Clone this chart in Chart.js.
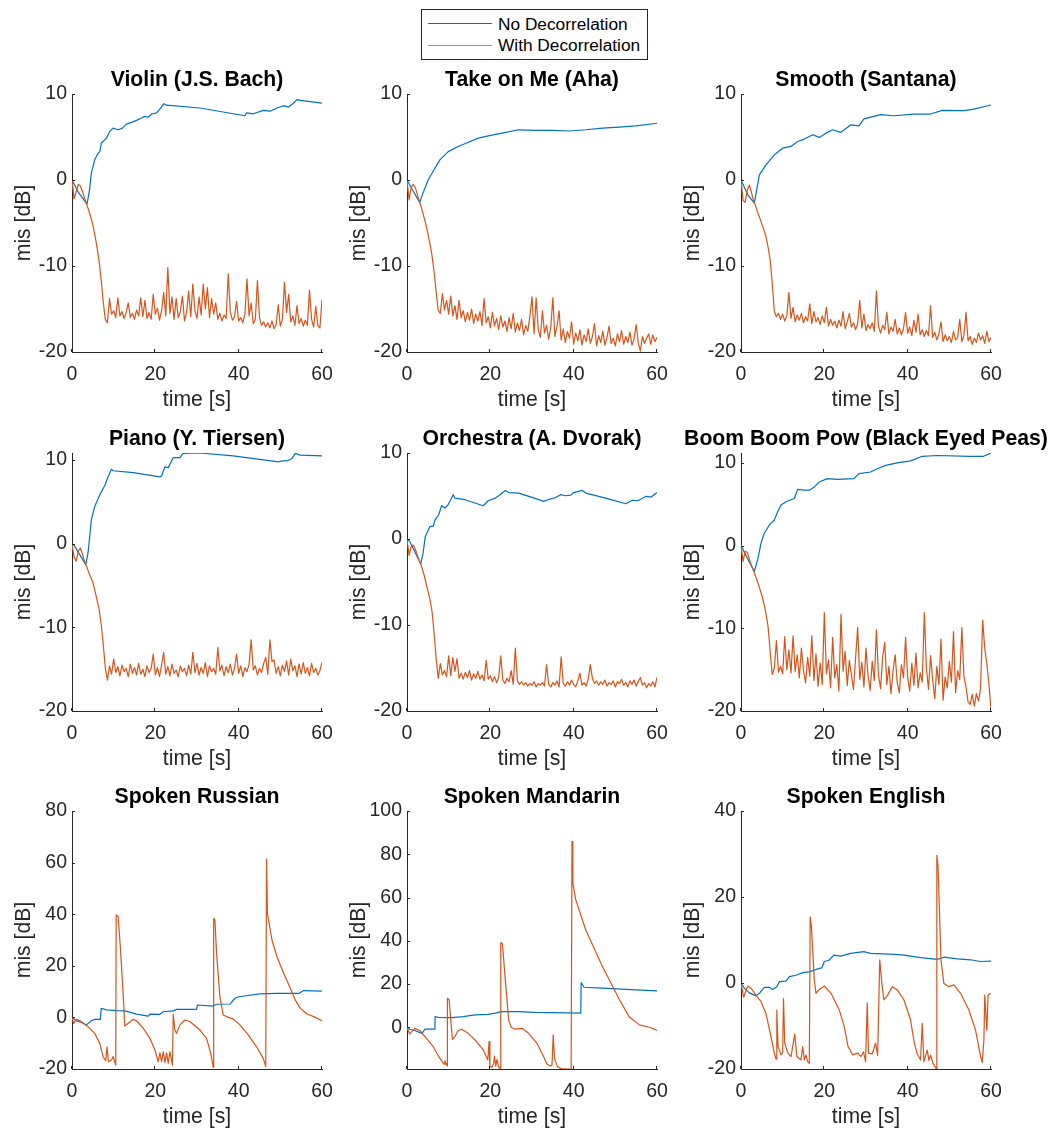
<!DOCTYPE html>
<html lang="en">
<head>
<meta charset="UTF-8">
<title>mis vs time</title>
<script src="https://cdn.jsdelivr.net/npm/chart.js@4.4.0/dist/chart.umd.min.js"></script>
<style>
body { margin: 0; background: #fff; width: 1056px; height: 1131px; position: relative; overflow: hidden;
       font-family: "Liberation Sans", Arial, Helvetica, sans-serif; }
canvas { position: absolute; }
#legend { position: absolute; left: 421px; top: 9px; width: 227px; height: 51px; box-sizing: border-box;
          border: 1px solid #262626; background: #fff; z-index: 5; }
#legend .ln { position: absolute; left: 6px; width: 64px; height: 1.3px; }
#legend .tx { position: absolute; left: 76px; font-size: 17.3px; line-height: 20px; color: #000; white-space: nowrap; }
</style>
</head>
<body>
<div id="legend">
  <div class="ln" style="top:13px;background:#0072BD"></div><div class="tx" style="top:3.5px">No Decorrelation</div>
  <div class="ln" style="top:34.5px;background:#E07A50"></div><div class="tx" style="top:25px">With Decorrelation</div>
</div>
<script>

var titles = ['Violin (J.S. Bach)', 'Take on Me (Aha)', 'Smooth (Santana)',
              'Piano (Y. Tiersen)', 'Orchestra (A. Dvorak)', 'Boom Boom Pow (Black Eyed Peas)',
              'Spoken Russian', 'Spoken Mandarin', 'Spoken English'];
var xLabel = 'time [s]';
var yLabel = 'mis [dB]';
var xTicks = [0, 20, 40, 60];
var yTicksMusic = [-20, -10, 0, 10];
var yTicksRussian = [-20, 0, 20, 40, 60, 80];
var yTicksMandarin = [0, 20, 40, 60, 80, 100];
var yTicksEnglish = [-20, 0, 20, 40];
var yMins = [-20, -20, -20, -20, -20, -20, -20, -19.3, -20];
var yMaxs = [10, 10, 10, 10.85, 10, 11.2, 80, 100, 40];

// time base of the music "With Decorrelation" curves, 0.5 s steps
var tGrid = [0,0.5,1,1.5,2,2.5,3,3.5,4,4.5,5,5.5,6,6.5,7,7.5,8,8.5,9,9.5,
  10,10.5,11,11.5,12,12.5,13,13.5,14,14.5,15,15.5,16,16.5,17,17.5,18,18.5,19,19.5,
  20,20.5,21,21.5,22,22.5,23,23.5,24,24.5,25,25.5,26,26.5,27,27.5,28,28.5,29,29.5,
  30,30.5,31,31.5,32,32.5,33,33.5,34,34.5,35,35.5,36,36.5,37,37.5,38,38.5,39,39.5,
  40,40.5,41,41.5,42,42.5,43,43.5,44,44.5,45,45.5,46,46.5,47,47.5,48,48.5,49,49.5,
  50,50.5,51,51.5,52,52.5,53,53.5,54,54.5,55,55.5,56,56.5,57,57.5,58,58.5,59,59.5,60];

// Violin
var violinNoT = [0,1.5,3.6,4.2,4.65,5.45,6.25,6.66,7.06,8.26,9.06,9.86,11.07,12,13.07,14.27,15.5,16.7,17.5,18.3,19.1,20.3,21.1,22.05,22.7,30.7,41.5,41.9,43.5,45.95,47.55,49.2,50.8,52,53.2,54,54.8,60];
var violinNoY = [0,-1.4,-2.8,-1.2,0.8,2.34,3.1,3.3,4.3,4.87,5.65,6.03,5.84,6.0,6.5,6.7,6.93,7.2,7.4,7.3,7.67,7.8,8.25,8.87,8.7,8.37,7.47,7.8,7.7,8.1,8.0,8.37,8.64,8.48,8.95,9.34,9.26,8.95];
var violinWithY = [0,-2.2,-1.4,-0.5,-0.7,-1.3,-2.1,-2.8,-3.5,-4.3,
  -5.2,-6.4,-7.8,-9.4,-11.6,-14.2,-16.2,-16.6,-13.8,-15.6,
  -15.2,-16.0,-13.7,-15.8,-15.3,-16.1,-15.4,-14.3,-16.0,-15.5,
  -16.2,-15.1,-15.8,-13.7,-15.9,-14.0,-16.1,-15.4,-16.2,-13.3,
  -15.6,-14.9,-16.3,-15.2,-13.1,-15.8,-10.2,-15.5,-13.6,-16.2,
  -13.8,-16.0,-15.3,-13.5,-16.4,-15.4,-12.9,-15.9,-12.1,-15.2,
  -16.1,-13.6,-15.7,-12.1,-15.0,-12.5,-16.0,-13.8,-15.6,-14.3,
  -16.2,-15.5,-16.4,-15.7,-16.1,-10.9,-15.4,-16.3,-15.9,-14.1,
  -16.4,-16.0,-16.6,-15.6,-11.5,-15.8,-14.3,-16.7,-16.2,-11.7,
  -16.0,-16.9,-16.5,-17.1,-16.6,-17.2,-16.4,-17.3,-16.8,-14.5,
  -17.0,-16.2,-11.9,-15.4,-13.3,-16.5,-15.8,-16.9,-14.6,-16.7,
  -16.1,-17.0,-16.3,-16.9,-12.8,-16.2,-17.1,-14.7,-16.9,-17.2,-13.9];

// Take on Me
var takeNoT = [0,1.5,3.06,3.86,5.07,6.7,7.9,9.9,12.3,14.3,17.1,19.5,22.8,26.8,30.8,34.8,38.9,42.9,46.9,50.9,54.9,60];
var takeNoY = [0,-1.3,-2.6,-1.5,0,1.37,2.34,3.3,3.9,4.3,4.87,5.14,5.45,5.84,5.76,5.76,5.7,5.84,6.04,6.15,6.3,6.6];
var takeWithY = [0,-2.3,-0.9,-0.5,-0.9,-1.7,-2.5,-3.3,-4.2,-5.1,
  -6.2,-7.4,-8.8,-10.7,-13.0,-15.2,-15.5,-13.2,-15.1,-14.0,
  -15.6,-13.5,-15.8,-14.6,-16.2,-14.0,-16.0,-15.2,-16.5,-15.4,
  -16.3,-15.0,-16.7,-15.6,-16.4,-15.3,-16.9,-13.8,-16.6,-15.9,
  -17.2,-15.4,-17.0,-16.1,-17.4,-15.8,-17.1,-16.4,-17.6,-16.0,
  -17.3,-15.5,-17.7,-16.6,-17.5,-16.2,-18.0,-16.9,-17.6,-15.8,
  -13.6,-17.9,-13.7,-17.4,-18.3,-15.2,-17.8,-16.9,-18.5,-17.2,
  -13.7,-18.2,-17.0,-15.2,-18.6,-17.3,-18.9,-17.6,-18.4,-16.5,
  -19.1,-17.8,-18.7,-17.4,-19.2,-18.0,-18.8,-17.3,-19.0,-18.2,
  -16.7,-19.3,-18.1,-18.9,-17.6,-19.2,-18.3,-17.0,-19.0,-18.4,
  -19.3,-17.9,-18.8,-17.5,-19.1,-18.2,-18.9,-17.7,-19.2,-18.5,
  -16.8,-18.9,-19.9,-18.2,-19.0,-18.4,-17.9,-19.1,-18.0,-18.8,-18.3];

// Smooth
var smoothNoT = [0,1.6,3.2,4.4,6,8,10,12,13.6,15.2,17.2,18.8,20.4,22,23.9,26.3,28.3,29.5,33.5,36.7,41.5,45.5,48.3,53.5,55.9,60];
var smoothNoY = [0,-1.7,-2.7,0.6,1.76,2.93,3.7,3.9,4.48,4.76,5.26,4.95,5.45,5.84,5.53,6.4,6.3,7.1,7.6,7.47,7.67,7.67,8.1,8.06,8.25,8.72];
var smoothWithY = [0,-2.4,-2.6,-1.2,-0.6,-1.4,-2.4,-3.0,-3.8,-4.4,
  -5.1,-5.8,-6.6,-7.8,-9.3,-12.0,-15.3,-15.9,-15.5,-16.2,
  -15.6,-16.4,-15.8,-13.1,-16.1,-14.8,-16.5,-15.7,-16.3,-15.5,
  -16.6,-15.9,-16.4,-14.4,-16.7,-15.3,-16.5,-16.0,-16.8,-15.8,
  -16.6,-14.8,-17.0,-16.2,-16.9,-16.4,-17.2,-16.3,-17.0,-15.3,
  -17.3,-16.5,-15.5,-17.1,-16.6,-17.4,-16.7,-14.0,-17.2,-15.6,
  -17.5,-16.8,-17.3,-16.6,-17.6,-12.9,-17.0,-17.8,-16.9,-17.4,
  -15.4,-17.9,-17.1,-17.6,-16.2,-17.9,-17.2,-18.0,-17.3,-15.4,
  -17.8,-17.1,-18.1,-16.3,-17.7,-15.6,-18.0,-17.4,-18.2,-17.5,
  -18.1,-14.6,-18.3,-17.7,-18.6,-17.9,-16.5,-18.8,-18.0,-18.7,
  -18.2,-18.9,-17.6,-18.6,-18.3,-16.2,-18.8,-18.1,-15.4,-18.7,
  -18.2,-19.1,-18.4,-18.9,-17.8,-18.6,-18.1,-19.0,-17.6,-18.8,-18.3];

// Piano
var pianoNoT = [0,0.4,1.85,3.3,3.85,4.65,5.45,6.66,7.9,8.66,9.46,9.86,14.7,21.1,21.5,22.3,23.1,24.3,25.9,26.7,30.7,38.7,49.6,50.4,51.6,52.8,53.6,54.8,60];
var pianoNoY = [0,-0.1,-1.3,-2.5,-1.1,2.87,4.45,5.84,7.0,8.0,8.9,8.73,8.5,8.0,8.1,9.2,9.1,10.3,10.3,10.8,10.85,10.5,9.8,9.9,9.9,10.2,10.8,10.6,10.5];
var pianoWithY = [0,-1.6,-2.1,-0.9,-0.5,-1.2,-2.1,-2.7,-3.4,-4.0,
  -4.6,-5.6,-6.7,-7.8,-9.6,-12.0,-14.9,-16.3,-14.6,-15.6,
  -13.8,-15.4,-14.7,-15.8,-14.5,-15.3,-14.9,-15.9,-14.4,-15.5,
  -14.8,-15.7,-14.3,-15.6,-15.0,-15.9,-14.6,-15.4,-14.9,-13.2,
  -15.7,-14.8,-15.9,-14.5,-13.0,-15.6,-14.7,-15.8,-14.4,-15.5,
  -15.1,-15.9,-14.6,-15.3,-14.9,-15.8,-14.5,-15.6,-13.0,-15.4,
  -14.3,-15.7,-14.8,-15.5,-14.2,-15.9,-14.6,-15.3,-14.9,-15.6,
  -12.4,-15.2,-14.5,-15.8,-14.7,-15.4,-14.4,-15.7,-14.9,-13.2,
  -15.5,-14.6,-15.9,-14.8,-15.3,-14.4,-11.5,-15.1,-14.6,-15.7,
  -14.9,-15.4,-14.3,-13.6,-15.6,-11.5,-14.1,-13.9,-15.5,-14.7,
  -15.8,-14.5,-15.3,-14.0,-15.7,-13.8,-15.2,-14.6,-15.9,-14.4,
  -15.6,-14.2,-15.5,-14.8,-15.8,-14.3,-15.4,-14.9,-15.7,-15.2,-14.2];

// Orchestra
var orchNoT = [0,0.64,1.85,3.3,3.86,4.4,5.5,6.3,6.7,7.6,8.3,9.1,9.9,11.1,11.5,13.9,16.3,18.3,19.5,21.2,22,23.6,24.4,26.8,30,32.8,34,35.6,36.8,38,39.3,40,42.1,42.9,47.7,52.5,54.1,55.4,57.4,58.6,60];
var orchNoY = [0,-0.28,-1.45,-2.9,-1.64,0.3,1.46,1.46,2.2,2.8,3.87,3.6,4.0,5.15,4.76,4.57,4.18,3.87,4.45,4.76,5.03,5.65,5.4,5.34,4.84,4.37,4.6,4.8,5.15,5.03,5.1,5.4,5.65,5.34,4.76,4.1,4.5,4.45,4.96,4.88,5.42];
var orchWithY = [0,-1.9,-0.9,-0.7,-1.2,-1.9,-2.6,-3.2,-4.0,-5.0,
  -6.0,-7.0,-8.4,-10.9,-13.9,-16.2,-14.5,-15.8,-15.3,-16.0,
  -13.6,-15.9,-13.8,-15.4,-13.9,-16.2,-15.6,-16.3,-15.5,-16.1,
  -15.3,-16.4,-15.7,-16.2,-15.4,-16.3,-15.8,-16.5,-14.1,-16.3,
  -15.9,-16.6,-16.0,-16.7,-16.1,-13.6,-16.4,-16.8,-16.2,-16.6,
  -15.3,-16.9,-12.7,-16.5,-16.9,-16.6,-17.0,-16.7,-17.1,-16.8,
  -17.0,-16.6,-17.2,-16.8,-17.0,-16.7,-17.1,-14.6,-16.9,-17.2,
  -16.7,-17.0,-16.5,-17.2,-13.7,-16.8,-17.1,-16.6,-17.0,-16.4,
  -16.9,-17.2,-16.5,-15.6,-17.0,-16.7,-17.1,-16.3,-14.6,-16.2,
  -16.8,-16.5,-17.0,-16.6,-16.9,-16.4,-17.1,-16.7,-16.9,-16.5,
  -17.2,-16.6,-16.8,-16.3,-17.0,-16.7,-17.2,-16.5,-16.9,-16.4,
  -17.1,-16.6,-16.1,-17.0,-16.7,-17.3,-16.8,-17.1,-16.6,-17.2,-16.1];

// Boom Boom Pow
var boomNoT = [0,1.6,3.2,4,4.8,5.6,6.8,8,8.8,9.6,10.8,12.8,13.6,15.2,16.4,17.6,18.8,20.7,23.1,27.1,28.3,31.1,32.7,34.7,37.5,40.7,43.5,47.1,55.1,58.2,60];
var boomNoY = [0,-1.6,-3.1,-1.7,0.3,1.5,2.5,3.1,4.1,4.9,5.3,5.7,6.8,6.7,6.7,7.1,7.7,8.1,8.0,8.1,8.7,8.9,9.3,9.7,10.0,10.25,10.8,10.9,10.8,10.8,11.2];
var boomWithY = [0,-1.9,-0.7,-0.8,-1.6,-2.4,-3.0,-3.7,-4.4,-5.2,
  -6.0,-7.0,-8.2,-9.8,-12.8,-15.6,-14.8,-11.5,-15.3,-14.6,
  -15.5,-11.0,-15.0,-12.6,-15.4,-10.9,-15.2,-13.2,-16.0,-12.4,
  -15.1,-16.6,-13.5,-15.8,-10.9,-16.3,-13.1,-17.0,-14.2,-16.8,
  -8.1,-15.5,-13.8,-17.2,-11.1,-16.0,-14.4,-17.6,-8.3,-15.2,
  -12.8,-16.9,-13.9,-15.6,-17.4,-13.6,-9.9,-16.2,-14.1,-17.1,
  -12.4,-15.8,-17.5,-14.0,-16.3,-10.2,-15.7,-17.3,-13.5,-11.7,
  -16.8,-14.6,-17.9,-15.1,-13.2,-16.6,-17.8,-14.4,-16.0,-11.1,
  -15.9,-17.6,-14.2,-16.9,-13.0,-17.2,-15.4,-16.5,-8.1,-14.8,
  -17.4,-13.3,-16.2,-18.5,-14.6,-16.8,-11.3,-18.7,-15.9,-17.2,
  -14.0,-16.5,-10.4,-17.8,-15.1,-16.2,-9.9,-15.8,-17.1,-18.9,
  -19.2,-18.0,-19.4,-17.9,-18.8,-17.3,-9.0,-12.4,-14.3,-16.7,-19.8];

// Spoken Russian
var russianNoT = [0,1.04,2.25,3.45,4.65,5.45,6.8,7.0,8.26,10.7,12.7,15.5,18.3,18.7,21.1,21.9,24.3,25.1,29.9,30.1,33.9,34.7,38,39.1,40,45.1,49.2,54.4,55.6,60];
var russianNoY = [0,-1.3,-2.0,-2.9,-1.3,-0.75,-0.75,3.5,2.9,2.6,2.5,1.3,0.5,1.3,1.2,2.2,2.5,3.1,3.1,4.8,4.4,5.1,5.2,7.4,8.0,9.1,9.3,9.3,10.4,10.2];
var russianWithT = [0,0.4,1.04,2.25,3.85,5.45,6.66,7.46,8.1,8.4,8.74,9.46,9.86,10.3,10.5,10.6,11.07,11.6,12.27,12.67,13.5,14.7,15.5,17.1,18.7,19.9,20.7,21.1,21.5,21.9,22.3,22.7,23.1,23.5,24.1,24.3,24.7,25.1,25.9,27.1,28.3,30.7,32.3,33.3,33.9,34.0,34.3,34.7,35.5,36.3,37.5,38.7,40.3,42.3,44.3,45.9,46.5,46.7,46.9,48,49.2,50.8,52.4,53.6,54.8,56.4,58,60];
var russianWithY = [0,-2.3,-0.75,-1.65,-3.6,-6.2,-10.0,-15.2,-16.8,-11.4,-17.2,-16.5,-15.2,-17.5,-18.5,39.7,39.1,27.4,9.3,-3.3,-2.3,-0.75,-1.3,-4.2,-8.1,-12.6,-17.2,-13.7,-17.2,-13.3,-17.5,-13.7,-17.8,-13.3,-18.5,1.2,-4.9,-6.2,-2.9,-1.0,-1.6,-4.9,-8.1,-13.9,-19.4,38.4,37.8,24.8,8.0,0.9,0,-0.6,-2.9,-6.8,-11.4,-15.9,-19.1,61.4,40.3,30,23.5,17.1,11.3,6.7,3.5,1.3,0.3,-1.3];

// Spoken Mandarin
var mandarinNoT = [0,0.64,1.85,3.6,4.3,6.7,6.75,7.5,10.7,13.5,16.3,19.5,21.2,22.8,26.8,30.8,34.8,41.7,41.8,42.5,46.9,54.9,60];
var mandarinNoY = [0,-0.9,-1.5,-2.8,-0.9,-0.9,4.9,4.6,4.5,4.9,5.7,6.0,6.5,7.25,7.25,6.9,6.8,6.5,20.7,18.5,18.1,17.3,16.8];
var mandarinWithT = [0,0.64,1.85,3.06,4.67,6.3,7.64,8.45,8.9,9.1,9.5,9.65,9.7,10.1,10.5,10.9,11.5,12.3,13.1,14.7,16.7,18.3,19.4,19.7,19.9,20.4,20.8,21.0,21.3,21.6,22.0,22.4,22.5,22.9,23.6,24.4,25,26,27.6,29.2,31.2,32.8,33.6,34.4,34.8,35.1,35.4,36.1,36.9,38.1,39.4,39.6,39.8,40.5,42.9,46.9,51,53.3,55.8,58.2,60];
var mandarinWithY = [0,-3.1,-0.5,-1.5,-5.1,-9.0,-13.6,-15.9,-17.0,-15.4,-17.4,-17.9,13.4,12.7,3.4,-5.6,-4.3,-1.5,-0.9,-2.8,-6.6,-10.5,-15.1,-6.6,-18.2,-18.5,-16.7,-13.3,-18.0,-14.8,-18.5,-19.0,39.2,38.6,21.9,3.4,0,-0.9,-0.5,-2.8,-7.4,-13.6,-17.0,-17.9,-17.4,-3.5,-14.4,-18.2,-19.1,-19.3,-19.3,86,66.7,59,45,28.1,12.7,4.9,1.1,0,-1.5];

// Spoken English
var englishNoT = [0,0.8,2,3.6,4.4,5.6,6.8,7.6,8.6,9.2,10.8,11.6,13.2,14.8,16.4,17.6,18.8,19.4,20,21.1,22.3,23.9,26.3,29.5,31.1,35.9,39.1,43.1,47.1,48.7,51.9,55.1,57.5,60];
var englishNoY = [0,-1.2,-2.3,-3.0,-2.4,-1.0,-1.0,-1.5,-0.85,0.3,0.45,1.5,1.8,2.4,2.6,3.0,3.4,3.5,5.0,5.3,6.5,6.25,6.9,7.3,6.9,6.7,6.5,5.9,5.5,6.0,5.6,5.4,5.0,5.1];
var englishWithT = [0,0.64,1.6,2.4,3.6,4.8,6,7.2,8,8.4,8.6,8.9,9.6,10.0,10.2,10.5,11.2,12,12.9,13.4,14.4,14.8,15.2,15.6,16,16.4,16.6,16.9,17.6,18,18.8,20,21.6,23.6,24.8,25.7,26.8,28,28.8,29.4,29.9,30.3,30.6,31.5,32.3,32.8,33.3,33.8,34.3,35.1,36.3,37.5,39.1,40.7,41.6,42.3,43.1,43.5,43.9,44.7,45.1,45.5,46.1,46.9,47.0,47.3,48,48.7,49.9,51.1,52.7,54.7,56.3,57.5,57.9,58.3,58.5,59,59.3,60];
var englishWithY = [0,-3.3,-0.7,-1.2,-2.8,-4.35,-7.1,-12.5,-16.3,-17.7,-6.3,-14.8,-16.7,-16.3,-3.6,-14.0,-16.2,-17.1,-11.9,-17.1,-17.9,-14.8,-17.9,-16.7,-18.3,-18.7,15.4,13.1,0.7,-2.4,-1.5,-0.7,-2.4,-6.3,-10.2,-14.8,-16.7,-16.3,-17.1,-16.0,-18.3,-4.6,-16.3,-16.5,-14.0,-16.9,5.4,-0.1,-3.9,-3.0,-0.85,-1.6,-3.9,-8.6,-14.0,-16.5,-17.9,-9.4,-18.3,-15.6,-18.0,-16.8,-18.7,-20,29.7,27,5.3,-0.1,-0.85,-0.45,-2.4,-6.3,-11.0,-17.1,-18.5,-13.2,-2.8,-11,-2.8,-2.4];

var panels = [
  {noT: violinNoT, noY: violinNoY, withT: tGrid, withY: violinWithY, yTicks: yTicksMusic},
  {noT: takeNoT, noY: takeNoY, withT: tGrid, withY: takeWithY, yTicks: yTicksMusic},
  {noT: smoothNoT, noY: smoothNoY, withT: tGrid, withY: smoothWithY, yTicks: yTicksMusic},
  {noT: pianoNoT, noY: pianoNoY, withT: tGrid, withY: pianoWithY, yTicks: yTicksMusic},
  {noT: orchNoT, noY: orchNoY, withT: tGrid, withY: orchWithY, yTicks: yTicksMusic},
  {noT: boomNoT, noY: boomNoY, withT: tGrid, withY: boomWithY, yTicks: yTicksMusic},
  {noT: russianNoT, noY: russianNoY, withT: russianWithT, withY: russianWithY, yTicks: yTicksRussian},
  {noT: mandarinNoT, noY: mandarinNoY, withT: mandarinWithT, withY: mandarinWithY, yTicks: yTicksMandarin},
  {noT: englishNoT, noY: englishNoY, withT: englishWithT, withY: englishWithY, yTicks: yTicksEnglish}
];

var FONT = '"Liberation Sans", Arial, Helvetica, sans-serif';
var BLUE = '#0072BD', ORANGE = '#D95319', AXIS = '#262626';

// layout of the 3x3 grid (plot area of each axes)
var colLeft = [72, 407, 741], rowTop = [94, 453, 811];
var plotW = 250, plotH = 258;
var YW = 72, XH = 62, TH = 27;
var titleSize = 21.2, tickSize = 19.5;

function toXY(ts, vs) {
  return ts.map(function (t, i) { return {x: t, y: vs[i]}; });
}

// matlab style ticks, pointing into the axes
var inwardTicks = {
  id: 'inwardTicks',
  afterDraw: function (chart) {
    var ctx = chart.ctx, a = chart.chartArea;
    var xs = chart.scales.x, ys = chart.scales.y;
    ctx.save();
    ctx.strokeStyle = AXIS;
    ctx.lineWidth = 1;
    ctx.beginPath();
    xs.ticks.forEach(function (t) {
      var px = Math.round(xs.getPixelForValue(t.value)) - 0.5;
      ctx.moveTo(px, a.bottom);
      ctx.lineTo(px, a.bottom - 3);
    });
    ys.ticks.forEach(function (t) {
      var py = Math.round(ys.getPixelForValue(t.value)) + 0.5;
      ctx.moveTo(a.left, py);
      ctx.lineTo(a.left + 3, py);
    });
    ctx.stroke();
    ctx.restore();
  }
};

panels.forEach(function (p, i) {
  var col = i % 3, row = Math.floor(i / 3);
  // symmetric canvas so the title is centred over the axes and may run wider than them
  var w = YW + plotW + YW, h = TH + plotH + XH;
  var cv = document.createElement('canvas');
  cv.width = w; cv.height = h;
  cv.style.width = w + 'px'; cv.style.height = h + 'px';
  cv.style.left = (colLeft[col] - YW) + 'px';
  cv.style.top = (rowTop[row] - TH) + 'px';
  document.body.appendChild(cv);

  new Chart(cv, {
    type: 'line',
    data: {
      datasets: [
        {label: 'With Decorrelation', data: toXY(p.withT, p.withY), borderColor: ORANGE,
         borderWidth: 1.2, pointRadius: 0, borderJoinStyle: 'round', order: 0},
        {label: 'No Decorrelation', data: toXY(p.noT, p.noY), borderColor: BLUE,
         borderWidth: 1.2, pointRadius: 0, borderJoinStyle: 'round', order: 1}
      ]
    },
    options: {
      responsive: false,
      animation: false,
      events: [],
      layout: {padding: 0},
      plugins: {
        legend: {display: false},
        tooltip: {enabled: false},
        title: {
          display: true, fullSize: true, text: titles[i], color: '#000',
          font: {family: FONT, size: titleSize, weight: 'bold', lineHeight: 1.2},
          padding: {top: 0, bottom: TH - titleSize * 1.2}
        }
      },
      scales: {
        x: {
          type: 'linear', min: 0, max: 60,
          grid: {display: false, drawTicks: false},
          border: {display: true, color: AXIS, width: 1},
          ticks: {font: {family: FONT, size: tickSize}, color: AXIS, padding: 11,
                  maxRotation: 0, autoSkip: false,
                  callback: function (v) { return String(v); }},
          afterBuildTicks: function (s) { s.ticks = xTicks.map(function (v) { return {value: v}; }); },
          afterFit: function (s) { s.height = XH; },
          title: {display: true, text: xLabel, color: AXIS,
                  font: {family: FONT, size: titleSize, lineHeight: 1.2}, padding: {top: 0, bottom: 1}}
        },
        y: {
          type: 'linear', min: yMins[i], max: yMaxs[i],
          grid: {display: false, drawTicks: false},
          border: {display: true, color: AXIS, width: 1},
          ticks: {font: {family: FONT, size: tickSize}, color: AXIS, padding: 5, autoSkip: false,
                  callback: function (v) { return String(v); }},
          afterBuildTicks: function (s) { s.ticks = p.yTicks.map(function (v) { return {value: v}; }); },
          afterFit: function (s) { s.width = YW; },
          title: {display: true, text: yLabel, color: AXIS,
                  font: {family: FONT, size: titleSize, lineHeight: 1.2}, padding: {top: 11.3, bottom: 0}}
        },
        // empty right-hand axis, only reserves the same margin as the left one
        yPad: {
          position: 'right', display: true,
          grid: {display: false, drawTicks: false},
          border: {display: false},
          ticks: {display: false},
          afterFit: function (s) { s.width = YW; }
        }
      }
    },
    plugins: [inwardTicks]
  });
});

</script>
</body>
</html>
